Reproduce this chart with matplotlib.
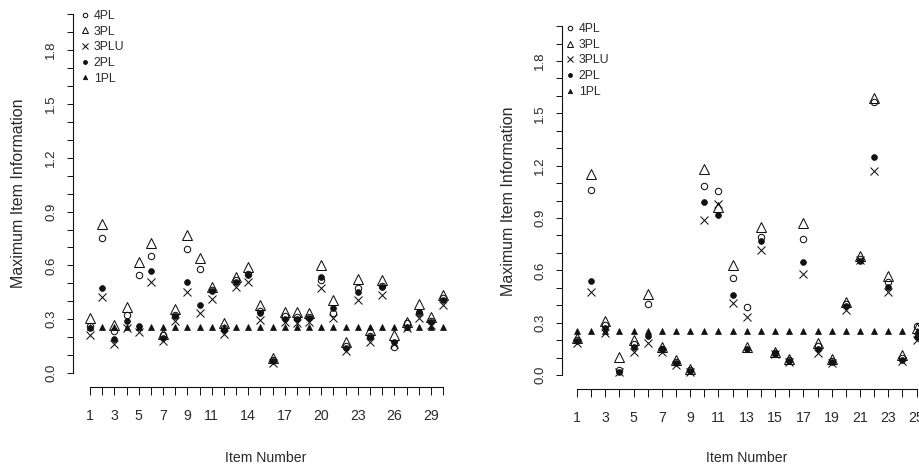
import matplotlib
matplotlib.use('Agg')
import matplotlib.pyplot as plt
from matplotlib import font_manager
from matplotlib.lines import Line2D
import numpy as np

# ---- data: maximum item information per model ----
models = ['4PL', '3PL', '3PLU', '2PL', '1PL']

left_items = list(range(1, 31))
left_4pl = [0.26, 0.755, 0.232, 0.325, 0.544, 0.65, 0.213, 0.325, 0.692, 0.58,
            0.464, 0.25, 0.52, 0.553, 0.343, 0.07, 0.315, 0.31, 0.312, 0.517,
            0.335, 0.15, 0.475, 0.205, 0.485, 0.147, 0.277, 0.334, 0.29, 0.418]
left_3pl = [0.305, 0.831, 0.27, 0.367, 0.62, 0.724, 0.22, 0.356, 0.77, 0.64,
            0.482, 0.278, 0.535, 0.59, 0.38, 0.083, 0.338, 0.338, 0.334, 0.6,
            0.405, 0.172, 0.525, 0.24, 0.52, 0.212, 0.285, 0.385, 0.314, 0.436]
left_3plu = [0.212, 0.421, 0.162, 0.25, 0.226, 0.505, 0.176, 0.288, 0.449, 0.334,
             0.412, 0.219, 0.479, 0.51, 0.297, 0.056, 0.282, 0.278, 0.282, 0.472,
             0.305, 0.12, 0.407, 0.175, 0.437, 0.16, 0.25, 0.305, 0.268, 0.38]
left_2pl = [0.253, 0.473, 0.19, 0.288, 0.263, 0.566, 0.195, 0.315, 0.51, 0.38,
            0.458, 0.24, 0.51, 0.547, 0.334, 0.065, 0.3, 0.3, 0.306, 0.537,
            0.361, 0.14, 0.451, 0.2, 0.478, 0.175, 0.258, 0.342, 0.286, 0.408]
left_1pl = [0.255] * 30
left_labels = [1, 3, 5, 7, 9, 11, 14, 17, 20, 23, 26, 29]

right_items = list(range(1, 26))
right_4pl = [0.2, 1.061, 0.286, 0.03, 0.18, 0.406, 0.15, 0.075, 0.028, 1.086,
             1.057, 0.558, 0.39, 0.794, 0.125, 0.085, 0.781, 0.165, 0.08, 0.406,
             0.667, 1.566, 0.533, 0.095, 0.28]
right_3pl = [0.21, 1.152, 0.31, 0.105, 0.2, 0.467, 0.16, 0.086, 0.032, 1.18,
             0.966, 0.629, 0.16, 0.848, 0.13, 0.09, 0.87, 0.181, 0.09, 0.419,
             0.68, 1.59, 0.566, 0.114, 0.27]
right_3plu = [0.185, 0.476, 0.238, 0.015, 0.133, 0.185, 0.133, 0.057, 0.019, 0.886,
              0.98, 0.41, 0.333, 0.718, 0.118, 0.075, 0.581, 0.124, 0.07, 0.371,
              0.66, 1.168, 0.476, 0.08, 0.2]
right_2pl = [0.196, 0.537, 0.267, 0.02, 0.162, 0.223, 0.147, 0.067, 0.025, 0.99,
             0.92, 0.457, 0.15, 0.771, 0.124, 0.08, 0.648, 0.147, 0.076, 0.394,
             0.653, 1.248, 0.505, 0.086, 0.215]
right_1pl = [0.253] * 25
right_labels = list(range(1, 26, 2))

# ---- style ----
ink = '#111111'
txt = '#2a2a2a'
names = {f.name for f in font_manager.fontManager.ttflist}
if 'Liberation Sans Narrow' in names:
    narrow, xfs, lfs = 'Liberation Sans Narrow', 11.2, 9.4
else:
    narrow, xfs, lfs = 'Liberation Sans', 10.2, 8.8
plt.rcParams['font.family'] = ['Liberation Sans', 'DejaVu Sans']

styles = {
    '4PL': dict(marker='o', ms=4.6, mfc='none', mec=ink, mew=0.75),
    '3PL': dict(marker='^', ms=6.5, mfc='none', mec=ink, mew=0.75),
    '3PLU': dict(marker='x', ms=5.4, mec=ink, mew=0.75),
    '2PL': dict(marker='o', ms=4.2, mfc=ink, mec=ink, mew=0.5),
    '1PL': dict(marker='^', ms=4.6, mfc=ink, mec=ink, mew=0.5),
}


def panel(ax, items, series, xlim, ylim, label_items, ylab_x, leg_anchor):
    for m in models:
        ax.plot(items, series[m], linestyle='none', **styles[m])
    ax.set_xlim(*xlim)
    ax.set_ylim(*ylim)
    for s in ['top', 'right']:
        ax.spines[s].set_visible(False)
    ax.spines['left'].set_bounds(0, 2.0)
    ax.spines['bottom'].set_bounds(items[0], items[-1])
    for s in ['left', 'bottom']:
        ax.spines[s].set_linewidth(0.8)
        ax.spines[s].set_color(ink)

    yt = np.round(np.arange(0, 2.01, 0.1), 1)
    ax.set_yticks(yt)
    ax.set_yticklabels([f'{v:.1f}' if round(v * 10) % 3 == 0 else '' for v in yt],
                       rotation=90, va='center', fontsize=9.5, color=txt)
    ax.tick_params(axis='y', length=4.3, width=0.7, pad=7.0, color=ink)

    ax.set_xticks(items)
    ax.set_xticklabels([str(i) if i in label_items else '' for i in items],
                       family=narrow, fontsize=xfs, color=txt)
    ax.tick_params(axis='x', length=5.8, width=0.7, pad=9.5, color=ink)

    ax.set_ylabel('Maximum Item Information', fontsize=11.5, color=txt, va='center')
    ax.yaxis.set_label_coords(ylab_x, 0.5)
    ax.set_xlabel('Item Number', family=narrow, fontsize=xfs, color=txt, va='center')
    ax.xaxis.set_label_coords(0.5, -0.1826)

    handles = []
    for m in models:
        st = dict(styles[m])
        st['ms'] = st['ms'] * 0.7
        handles.append(Line2D([], [], linestyle='none', **st))
    leg = ax.legend(handles, models, loc='upper left', bbox_to_anchor=leg_anchor,
                    frameon=False, handlelength=0.6, handletextpad=0.45,
                    labelspacing=0.3, borderpad=0, borderaxespad=0,
                    prop={'family': narrow, 'size': lfs})
    for t in leg.get_texts():
        t.set_color(txt)


fig = plt.figure(figsize=(9.2, 4.68), dpi=100)

ax1 = fig.add_axes([73 / 920, 1 - 387.3 / 468, 385 / 920, 387.3 / 468])
panel(ax1, left_items,
      {'4PL': left_4pl, '3PL': left_3pl, '3PLU': left_3plu, '2PL': left_2pl, '1PL': left_1pl},
      (-0.396, 31.23), (-0.08, 2.08), left_labels, -0.1403, (0.021, 0.974))

ax2 = fig.add_axes([561.7 / 920, 1 - 389.3 / 468, 370.2 / 920, 377.1 / 468])
panel(ax2, right_items,
      {'4PL': right_4pl, '3PL': right_3pl, '3PLU': right_3plu, '2PL': right_2pl, '1PL': right_1pl},
      (-0.08, 26.08), (-0.082, 2.08), right_labels, -0.145, (0.0116, 0.971))

fig.savefig('out.png', dpi=100)
